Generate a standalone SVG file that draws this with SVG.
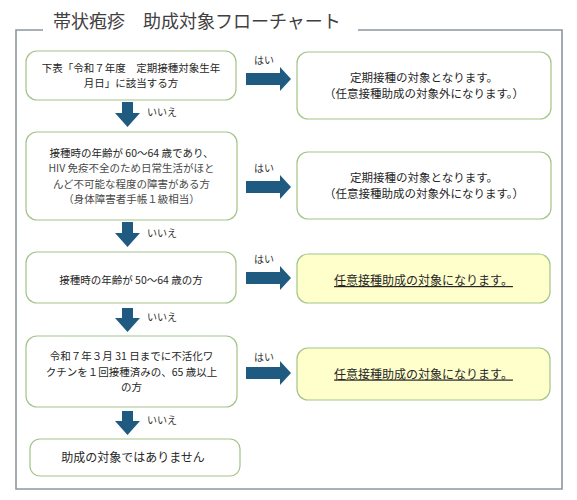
<svg xmlns="http://www.w3.org/2000/svg" width="577" height="500" viewBox="0 0 577 500">
<style>
text{font-family:"Noto Sans CJK JP","Noto Sans",sans-serif;fill:#262626}
.q{font-size:10.5px;text-anchor:middle}
.r{font-size:11.5px;text-anchor:middle}
.r12{font-size:12px;text-anchor:middle}
.lbl{font-size:10px;fill:#333}
.box{fill:#fff;stroke:#a3c488;stroke-width:1.2}
.ybox{fill:#ffffcc;stroke:#a3c488;stroke-width:1.2}
.arr{fill:#1f5b80}
.frame{fill:none;stroke:#8d979f;stroke-width:1.6}
.lt{fill:#4a4a4a}
</style>
<rect width="577" height="500" fill="#fff"/>
<g id="frame">
<path class="frame" d="M43,30 H16 V489 H562 V30 H358"/>
<text x="53" y="28" style="font-size:18px;fill:#404040">帯状疱疹　助成対象フローチャート</text>
</g>
<g id="connectors">
<path class="arr" d="M246,73 H280 V67 L291,79 L280,91 V85 H246 Z"/>
<path class="arr" d="M246,181 H280 V175 L291,187 L280,199 V193 H246 Z"/>
<path class="arr" d="M246,272 H280 V266 L291,278 L280,290 V284 H246 Z"/>
<path class="arr" d="M246,367 H280 V361 L291,373 L280,385 V379 H246 Z"/>
<path class="arr" d="M122,102 V113 H115 L127.5,127 L140,113 H133 V102 Z"/>
<path class="arr" d="M122,222 V233 H115 L127.5,247 L140,233 H133 V222 Z"/>
<path class="arr" d="M122,308 V318 H115 L127.5,332 L140,318 H133 V308 Z"/>
<path class="arr" d="M122,411 V421 H115 L127.5,435 L140,421 H133 V411 Z"/>
<text class="lbl" x="254" y="64">はい</text>
<text class="lbl" x="254" y="172">はい</text>
<text class="lbl" x="254" y="263">はい</text>
<text class="lbl" x="254" y="361">はい</text>
<text class="lbl" x="147" y="116">いいえ</text>
<text class="lbl" x="147" y="237">いいえ</text>
<text class="lbl" x="147" y="321">いいえ</text>
<text class="lbl" x="147" y="424">いいえ</text>
</g>
<g id="q1">
<rect class="box" x="26" y="51" width="210" height="49" rx="11"/>
<text class="q" x="131" y="71.9">下表「令和７年度　定期接種対象生年</text>
<text class="q" x="131" y="87.2">月日」に該当する方</text>
</g>
<g id="r1">
<rect class="box" x="297" y="52" width="254" height="67" rx="11"/>
<text class="r" x="424" y="81.5">定期接種の対象となります。</text>
<text class="r" x="424" y="98.3">（任意接種助成の対象外になります。）</text>
</g>
<g id="q2">
<rect class="box" x="26" y="132" width="211" height="88" rx="11"/>
<text class="q" x="131.5" y="157">接種時の年齢が 60～64 歳であり、</text>
<text class="q lt" x="131.5" y="172.3">HIV 免疫不全のため日常生活がほと</text>
<text class="q lt" x="131.5" y="187.6">んど不可能な程度の障害がある方</text>
<text class="q lt" x="131.5" y="202.9">（身体障害者手帳１級相当）</text>
</g>
<g id="r2">
<rect class="box" x="297" y="152" width="254" height="67" rx="11"/>
<text class="r" x="424" y="181.5">定期接種の対象となります。</text>
<text class="r" x="424" y="198.3">（任意接種助成の対象外になります。）</text>
</g>
<g id="q3">
<rect class="box" x="26" y="252" width="210" height="51" rx="11"/>
<text class="q" x="131" y="284">接種時の年齢が 50～64 歳の方</text>
</g>
<g id="r3">
<rect class="ybox" x="297" y="254" width="253" height="49" rx="11"/>
<text class="r12" x="423.5" y="285" text-decoration="underline">任意接種助成の対象になります。</text>
</g>
<g id="q4">
<rect class="box" x="26" y="336" width="211" height="71" rx="11"/>
<text class="q" x="131.5" y="360.2">令和７年３月 31 日までに不活化ワ</text>
<text class="q" x="131.5" y="375.5">クチンを１回接種済みの、65 歳以上</text>
<text class="q" x="131.5" y="390.8">の方</text>
</g>
<g id="r4">
<rect class="ybox" x="297" y="348" width="253" height="52" rx="11"/>
<text class="r12" x="423.5" y="378.5" text-decoration="underline">任意接種助成の対象になります。</text>
</g>
<g id="q5">
<rect class="box" x="30" y="439" width="210" height="37" rx="10"/>
<text class="r12" x="133" y="462">助成の対象ではありません</text>
</g>
</svg>
